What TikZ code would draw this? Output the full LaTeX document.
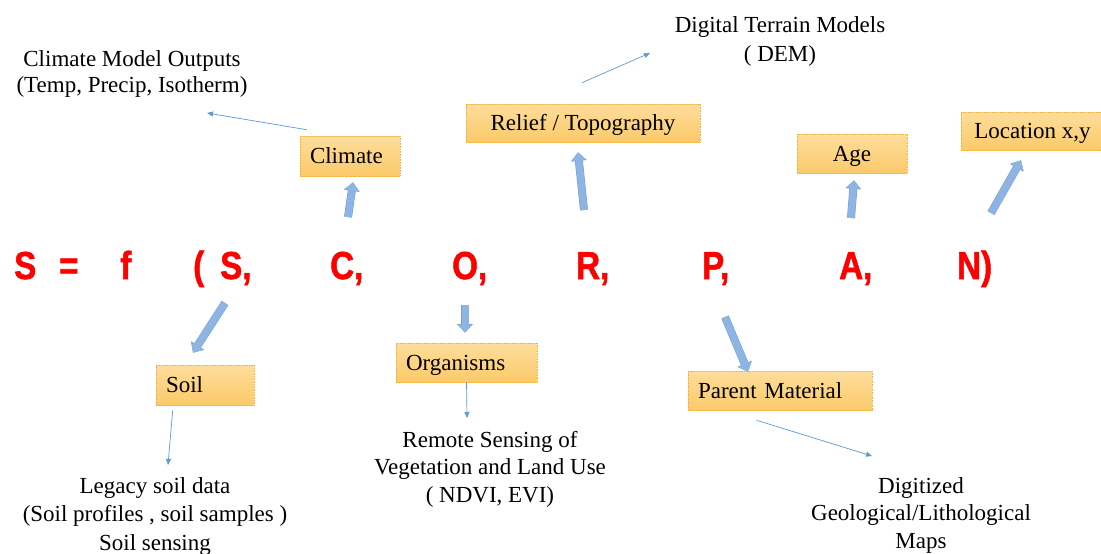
\documentclass[tikz,border=0pt]{standalone}
\usepackage{fontspec}
\usepackage{graphicx}
\setmainfont{Liberation Serif}
\newfontfamily\eqfont[BoldFeatures={FakeBold=1.5}]{Liberation Sans}
\usetikzlibrary{arrows.meta,calc}
\definecolor{boxtop}{HTML}{FEDD9B}
\definecolor{boxbot}{HTML}{FBCA6A}
\definecolor{boxedge}{HTML}{F2B23C}
\definecolor{bigblue}{HTML}{8DB4E2}
\definecolor{bigedge}{HTML}{74A0D6}
\definecolor{thinblue}{HTML}{5B9BD5}
\definecolor{eqred}{HTML}{FF0000}
\newcommand{\eqtok}[1]{\scalebox{0.85}[1]{#1}}
\begin{document}
\begin{tikzpicture}[x=1pt,y=-1pt,
  fbox/.style={draw=boxedge, densely dotted, line width=0.6pt, top color=boxtop, bottom color=boxbot,
    inner sep=0pt, font=\fontsize{23}{27}\selectfont, text height=15.2pt, text depth=0pt},
  lbox/.style={fbox, align=left, inner xsep=10pt},
  txt/.style={inner sep=0pt, align=center, anchor=base},
  eq/.style={inner sep=0pt, anchor=base west, text=eqred, font=\eqfont\bfseries\fontsize{39}{39}\selectfont},
  bigarrow/.style={draw=bigblue, line width=7pt, -{Triangle[length=8pt,width=14pt]},
    preaction={draw=bigedge, line width=8pt, -{Triangle[length=8.6pt,width=15.4pt]}}},
  thinarrow/.style={draw=thinblue, line width=0.7pt, -{Triangle[length=6pt,width=5pt]}}]
\useasboundingbox (0,0) rectangle (1101,554);
\fill[white] (0,0) rectangle (1101,554);

% equation
\node[eq] (eqS0) at (14,279) {\eqtok{S}};
\node[eq] (eqEq) at (59,279) {\eqtok{=}};
\node[eq] (eqF) at (120,279) {\eqtok{f}};
\node[eq] (eqPar) at (193,279) {\eqtok{(}};
\node[eq] (eqS) at (220,279) {\eqtok{S,}};
\node[eq] (eqC) at (330,279) {\eqtok{C,}};
\node[eq] (eqO) at (452,279) {\eqtok{O,}};
\node[eq] (eqR) at (576,279) {\eqtok{R,}};
\node[eq] (eqP) at (702,279) {\eqtok{P,}};
\node[eq] (eqA) at (839,279) {\eqtok{A,}};
\node[eq] (eqN) at (957,279) {\eqtok{N)}};

% factor boxes
\node[lbox, text width=80pt, minimum height=40pt] (climate) at (350,156) {Climate};
\node[fbox, minimum width=234pt, minimum height=38pt] (relief) at (583,123) {Relief / Topography};
\node[fbox, minimum width=110pt, minimum height=39pt] (age) at (852,153.5) {Age};
\node[fbox, minimum width=143pt, minimum height=38pt] (location) at (1032.5,131) {Location x,y};
\node[lbox, text width=78pt, minimum height=40pt] (soil) at (205,385) {Soil};
\node[lbox, text width=121pt, minimum height=39pt] (organisms) at (466.5,362.5) {Organisms};
\node[lbox, text width=164pt, minimum height=39pt] (parent) at (780,390.5) {Parent Material};

% data source texts (base = baseline of the last line)
\node[txt, font=\fontsize{23}{26}\selectfont] (climtxt) at (132,92) {Climate Model Outputs\\(Temp, Precip, Isotherm)};
\node[txt, font=\fontsize{23}{29}\selectfont] (demtxt) at (780,61) {Digital Terrain Models\\( DEM)};
\node[txt, font=\fontsize{23}{28.5}\selectfont] (legtxt) at (155,550) {Legacy soil data\\(Soil profiles , soil samples )\\Soil sensing};
\node[txt, font=\fontsize{23}{27.5}\selectfont] (remtxt) at (490,502) {Remote Sensing of\\Vegetation and Land Use\\( NDVI, EVI)};
\node[txt, font=\fontsize{23}{27.5}\selectfont] (geotxt) at (921,548) {Digitized\\Geological/Lithological\\Maps};

% thick arrows from the equation
\coordinate (tC) at (348,217);
\coordinate (tR) at (584,210);
\coordinate (tA) at (851,218);
\coordinate (tN) at (991,213);
\coordinate (tS) at (225,303);
\coordinate (tO) at (465,305);
\coordinate (tP) at (725,317);
\draw[bigarrow] (tC) -- ([shift={(3,6)}]climate.south);
\draw[bigarrow] (tR) -- ([shift={(-5,10)}]relief.south);
\draw[bigarrow] (tA) -- ([shift={(2,7)}]age.south);
\draw[bigarrow] (tN) -- ([shift={(-11.5,10)}]location.south);
\draw[bigarrow] (tS) -- ([shift={(-12,-12)}]soil.north);
\draw[bigarrow] (tO) -- ([shift={(-1.5,-10)}]organisms.north);
\draw[bigarrow] (tP) -- ([shift={(-32,1)}]parent.north);

% thin arrows to the data sources
\coordinate (hClim) at (207,113);
\coordinate (hDem) at (650,53);
\coordinate (hRem) at (467,418);
\coordinate (hLeg) at (168,465);
\coordinate (hGeo) at (872,456);
\draw[thinarrow] ([shift={(7,-6)}]climate.north west) -- (hClim);
\draw[thinarrow] ([shift={(-1,-21)}]relief.north) -- (hDem);
\draw[thinarrow] (organisms.south) -- (hRem);
\draw[thinarrow] ([shift={(17,5)}]soil.south west) -- (hLeg);
\draw[thinarrow] ([shift={(69,10)}]parent.south west) -- (hGeo);
\end{tikzpicture}
\end{document}
